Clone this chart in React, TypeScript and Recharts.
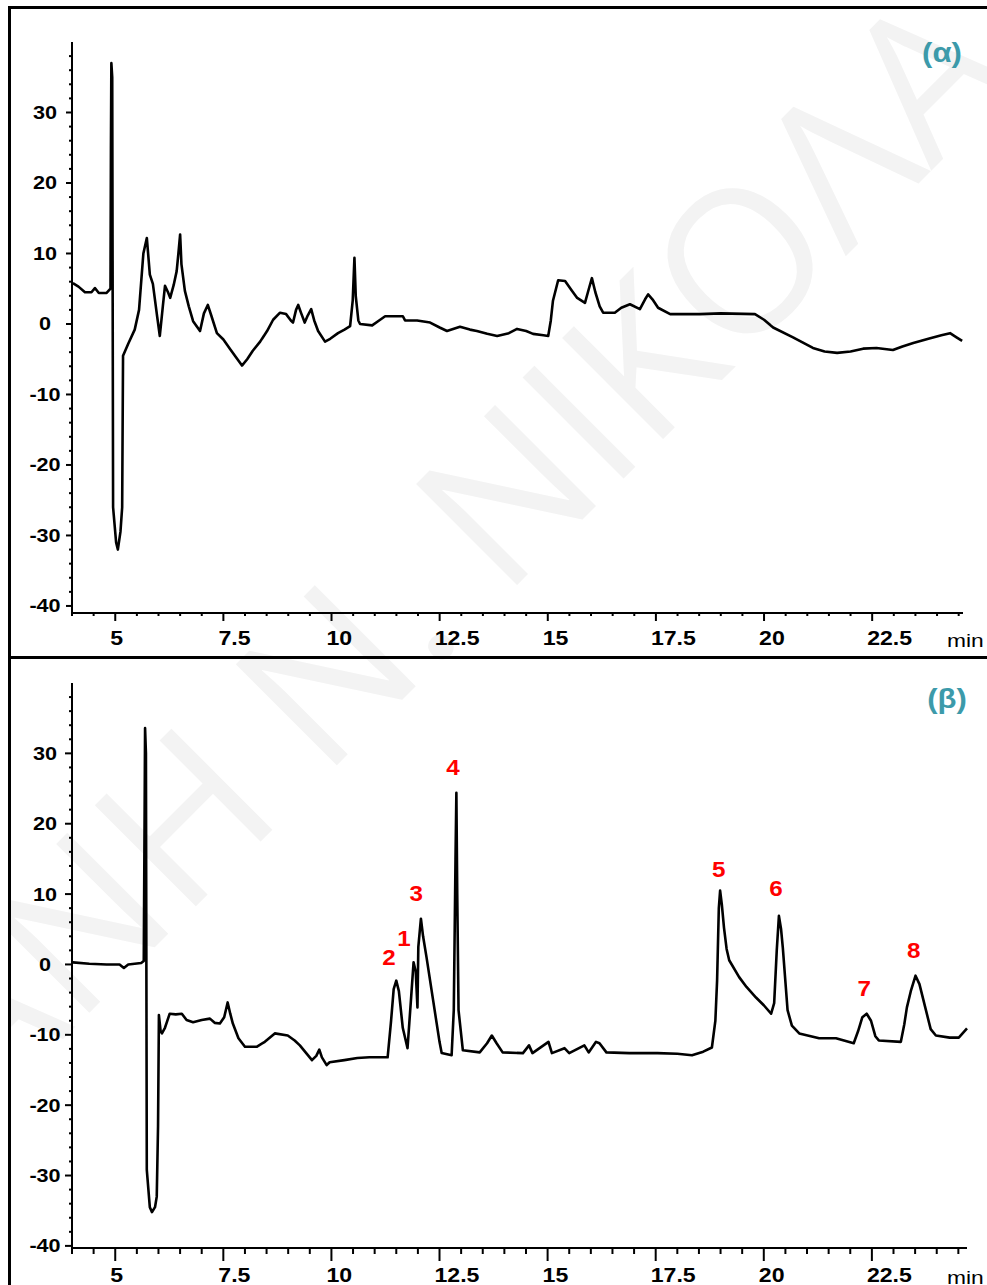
import { LineChart, Line, XAxis, YAxis, ReferenceDot } from "recharts";

// (α) chromatogram: retention time (min) and signal
const timesA = [
  4.02, 4.15, 4.3, 4.45, 4.53, 4.62, 4.8, 4.89, 4.9, 4.91, 4.93, 4.95, 5.02, 5.06, 5.12, 5.16, 5.18,
  5.3, 5.45, 5.55, 5.65, 5.73, 5.8, 5.87, 5.97, 6.03, 6.1, 6.15, 6.22, 6.27, 6.35, 6.42, 6.46, 6.5,
  6.53, 6.61, 6.7, 6.8, 6.96, 7.05, 7.14, 7.22, 7.35, 7.5, 7.65, 7.8, 7.93, 8.05, 8.18, 8.35, 8.51,
  8.65, 8.81, 8.95, 9.06, 9.11, 9.18, 9.23, 9.3, 9.38, 9.45, 9.53, 9.6, 9.69, 9.85, 9.97, 10.15,
  10.3, 10.43, 10.49, 10.53, 10.56, 10.62, 10.66, 10.94, 11.1, 11.24, 11.65, 11.7, 11.98, 12.28,
  12.5, 12.67, 12.97, 13.2, 13.36, 13.6, 13.83, 14.1, 14.29, 14.5, 14.66, 14.9, 15.01, 15.07,
  15.12, 15.24, 15.4, 15.55, 15.68, 15.86, 15.95, 16.02, 16.1, 16.2, 16.28, 16.55, 16.7, 16.9,
  17.13, 17.25, 17.32, 17.42, 17.55, 17.83, 18.52, 19.0, 19.79, 20.0, 20.21, 20.67, 21.13, 21.4,
  21.69, 22.0, 22.29, 22.6, 22.98, 23.2, 23.45, 23.8, 24.1, 24.3, 24.45, 24.58,
];
const signalA = [
  5.8, 5.3, 4.5, 4.5, 5.1, 4.4, 4.4, 5.0, 25, 37, 35, -26, -31, -32, -29.5, -26, -4.5,
  -2.8, -0.8, 2, 10, 12.2, 7, 5.7, 1, -1.7, 2.5, 5.4, 4.5, 3.7, 5.5, 7.5, 10, 12.7,
  8.5, 4.7, 2.5, 0.4, -1, 1.5, 2.7, 1.2, -1.3, -2.2, -3.5, -4.8, -5.9, -5.0, -3.8, -2.5, -1,
  0.6, 1.6, 1.4, 0.5, 0.2, 2.0, 2.7, 1.5, 0.2, 1.2, 2.1, 0.5, -1, -2.5, -2.1, -1.3,
  -0.8, -0.3, 3.3, 9.4, 4, 0.5, 0, -0.2, 0.5, 1.1, 1.1, 0.5, 0.5, 0.2,
  -0.5, -1, -0.4, -0.8, -1, -1.4, -1.7, -1.3, -0.7, -1.0, -1.4, -1.6, -1.7, 0.5,
  3.3, 6.2, 6.1, 4.8, 3.7, 3.0, 5.0, 6.5, 4.5, 2.5, 1.6, 1.6, 2.3, 2.8,
  2.1, 3.5, 4.2, 3.5, 2.3, 1.4, 1.4, 1.5, 1.4, 0.6, -0.5, -1.9, -3.4, -3.9,
  -4.1, -3.9, -3.5, -3.4, -3.7, -3.2, -2.7, -2.1, -1.6, -1.3, -1.9, -2.4,
];

// (β) chromatogram
const timesB = [
  4.02, 4.4, 4.8, 5.1, 5.2, 5.3, 5.6, 5.66, 5.68, 5.69, 5.71, 5.73, 5.8, 5.85, 5.92, 5.96, 5.99,
  6.01, 6.05, 6.08, 6.15, 6.26, 6.4, 6.54, 6.65, 6.8, 7.0, 7.19, 7.3, 7.42, 7.52, 7.6, 7.66, 7.72,
  7.85, 8.0, 8.27, 8.46, 8.69, 8.99, 9.15, 9.27, 9.55, 9.65, 9.72, 9.78, 9.89, 9.96, 10.3, 10.6,
  10.88, 11.3, 11.38, 11.44, 11.5, 11.56, 11.65, 11.76, 11.84, 11.9, 11.95, 11.99, 12.01, 12.07,
  12.12, 12.2, 12.35, 12.5, 12.55, 12.78, 12.83, 12.87, 12.89, 12.91, 12.94, 13.04, 13.43, 13.6,
  13.71, 13.82, 13.96, 14.43, 14.57, 14.65, 15.02, 15.1, 15.39, 15.5, 15.85, 15.95, 16.12, 16.2,
  16.36, 16.89, 17.54, 18.0, 18.34, 18.6, 18.8, 18.88, 18.92, 18.96, 18.99, 19.03, 19.08, 19.14,
  19.2, 19.43, 19.6, 19.82, 20.0, 20.17, 20.24, 20.3, 20.35, 20.4, 20.44, 20.55, 20.65, 20.82, 21.28,
  21.67, 22.08, 22.18, 22.28, 22.38, 22.48, 22.58, 22.66, 23.17, 23.25, 23.31, 23.4, 23.51, 23.6,
  23.75, 23.86, 23.98, 24.3, 24.51, 24.7,
];
const signalB = [
  0.3, 0.1, 0, 0, -0.5, 0, 0.2, 0.5, 22, 33.6, 30, -29.2, -34.5, -35.2, -34.5, -33, -23,
  -7.2, -9.5, -9.8, -9.0, -7, -7.1, -7, -7.9, -8.2, -7.9, -7.7, -8.3, -8.4, -7.5, -5.4, -7.0, -8.4,
  -10.5, -11.7, -11.7, -11, -9.8, -10.1, -10.8, -11.5, -13.6, -13.0, -12.1, -13.2, -14.3, -13.9, -13.6, -13.3,
  -13.2, -13.2, -8, -3.5, -2.3, -3.8, -9, -11.9, -5, 0.3, -1.0, -6.1, 2.5, 6.5,
  4.0, 1.0, -5, -11.0, -12.6, -12.9, -6.5, 15, 24.4, 10, -6.5, -12.2, -12.5, -11.2,
  -10.1, -11.2, -12.5, -12.6, -11.5, -12.6, -11, -12.6, -11.9, -12.6, -11.5, -12.5, -11, -11.2,
  -12.5, -12.6, -12.6, -12.7, -12.9, -12.4, -11.8, -8, -2.3, 8, 10.5, 8.5, 5.2, 2.2,
  0.6, -1.8, -3.2, -4.7, -5.8, -7, -5.5, 2.0, 6.9, 5.0, 2.4, -6.5, -8.7, -9.8, -10.5,
  -10.5, -11.2, -9.5, -7.5, -7, -8, -10.2, -10.8, -11, -8.5, -6.1, -3.8, -1.6, -2.8,
  -6.5, -9.2, -10.1, -10.4, -10.4, -9.1,
];

// numbered peaks in (β), label centre in data units
const peakNames = ["2", "1", "3", "4", "5", "6", "7", "8"];
const peakTimes = [11.33, 11.68, 11.96, 12.81, 18.96, 20.28, 22.32, 23.47];
const peakLabelValues = [1.0, 3.8, 10.1, 28.1, 13.6, 10.8, -3.4, 2.0];

const xMajorTicks = [5, 7.5, 10, 12.5, 15, 17.5, 20, 22.5];
const xTickLabels = ["5", "7.5", "10", "12.5", "15", "17.5", "20", "22.5"];
const yMajorTicks = [-40, -30, -20, -10, 0, 10, 20, 30];
const yTickLabels = ["-40", "-30", "-20", "-10", "0", "10", "20", "30"];

const range = (from: number, to: number, step: number) => {
  const out: number[] = [];
  for (let v = from; v <= to + 1e-9; v += step) out.push(Math.round(v * 10) / 10);
  return out;
};
const xAllTicks = range(4, 24.5, 0.5);
const yAllTicks = range(-40, 38, 2);

const FONT = "'Liberation Sans', Arial, sans-serif";
const TEAL = "#3c9aaa";

const dataA = timesA.map((t, i) => ({ t, v: signalA[i] }));
const dataB = timesB.map((t, i) => ({ t, v: signalB[i] }));

function XTick(props: any) {
  const { x, y, payload, majorLen, minorLen, labelDy } = props;
  const i = xMajorTicks.indexOf(payload.value);
  const major = i >= 0;
  return (
    <g>
      <line x1={x} x2={x} y1={y} y2={y + (major ? majorLen : minorLen)} stroke="#000" strokeWidth={2} />
      {major && (
        <text
          transform={`translate(${x - 5},${y + labelDy}) scale(1.1,1)`}
          textAnchor="start"
          fontSize={21}
          fontWeight="bold"
          fontFamily={FONT}
          fill="#000"
        >
          {xTickLabels[i]}
        </text>
      )}
    </g>
  );
}

function YTick(props: any) {
  const { x, y, payload, majorLen } = props;
  const i = yMajorTicks.indexOf(payload.value);
  const major = i >= 0;
  return (
    <g>
      <line x1={x - (major ? majorLen : 3)} x2={x} y1={y} y2={y} stroke="#000" strokeWidth={2} />
      {major && (
        <text
          transform={`translate(${x - 27},${y}) scale(1.2,1)`}
          textAnchor="middle"
          dy="0.36em"
          fontSize={18}
          fontWeight="bold"
          fontFamily={FONT}
          fill="#000"
        >
          {yTickLabels[i]}
        </text>
      )}
    </g>
  );
}

function PeakLabel(props: any) {
  const { cx, cy, name } = props;
  return (
    <text
      transform={`translate(${cx},${cy}) scale(1.1,1)`}
      textAnchor="middle"
      dy="0.36em"
      fontSize={22}
      fontWeight="bold"
      fontFamily={FONT}
      fill="#ff0000"
    >
      {name}
    </text>
  );
}

export default function App() {
  return (
    <div
      style={{
        position: "fixed",
        left: 8,
        top: 6,
        width: 979,
        height: 1279,
        overflow: "hidden",
        background: "#fff",
      }}
    >
      {/* faint watermark */}
      <svg width={979} height={1279} style={{ position: "absolute", left: 0, top: 0 }}>
        <text
          transform="translate(-22,1110) rotate(-45)"
          fontSize={200}
          fontFamily="'Open Sans', sans-serif"
          fill="#f3f3f3"
        >
          ΑΝΗ Ν. ΝΙΚΟΛΑ
        </text>
      </svg>

      <div style={{ position: "absolute", left: 0, top: 0 }}>
        <LineChart width={979} height={650} data={dataA} margin={{ top: 36, right: 24, bottom: 0, left: 0 }}>
          <XAxis
            dataKey="t"
            type="number"
            domain={[4, 24.6]}
            ticks={xAllTicks}
            interval={0}
            height={43}
            tickSize={0}
            tickMargin={0}
            tickLine={false}
            axisLine={{ stroke: "#000", strokeWidth: 2 }}
            tick={(p: any) => <XTick {...p} majorLen={8} minorLen={3} labelDy={32} />}
          />
          <YAxis
            type="number"
            domain={[-41, 40]}
            ticks={yAllTicks}
            interval={0}
            width={64}
            tickSize={0}
            tickMargin={0}
            tickLine={false}
            axisLine={{ stroke: "#000", strokeWidth: 2 }}
            tick={(p: any) => <YTick {...p} majorLen={6} />}
          />
          <Line
            dataKey="v"
            type="linear"
            stroke="#000"
            strokeWidth={2.6}
            strokeLinejoin="round"
            dot={false}
            isAnimationActive={false}
          />
        </LineChart>
      </div>

      <div style={{ position: "absolute", left: 0, top: 652 }}>
        <LineChart width={979} height={627} data={dataB} margin={{ top: 25, right: 20, bottom: 0, left: 0 }}>
          <XAxis
            dataKey="t"
            type="number"
            domain={[4, 24.7]}
            ticks={xAllTicks}
            interval={0}
            height={37}
            tickSize={0}
            tickMargin={0}
            tickLine={false}
            axisLine={{ stroke: "#000", strokeWidth: 2 }}
            tick={(p: any) => <XTick {...p} majorLen={13} minorLen={6} labelDy={34} />}
          />
          <YAxis
            type="number"
            domain={[-40.3, 40]}
            ticks={yAllTicks}
            interval={0}
            width={64}
            tickSize={0}
            tickMargin={0}
            tickLine={false}
            axisLine={{ stroke: "#000", strokeWidth: 2 }}
            tick={(p: any) => <YTick {...p} majorLen={7} />}
          />
          <Line
            dataKey="v"
            type="linear"
            stroke="#000"
            strokeWidth={2.6}
            strokeLinejoin="round"
            dot={false}
            isAnimationActive={false}
          />
          {peakNames.map((name, i) => (
            <ReferenceDot
              key={name}
              x={peakTimes[i]}
              y={peakLabelValues[i]}
              r={0}
              shape={(p: any) => <PeakLabel {...p} name={name} />}
            />
          ))}
        </LineChart>
      </div>

      {/* frame */}
      <div style={{ position: "absolute", left: 0, top: 0, width: 3, height: 1279, background: "#000" }} />
      <div style={{ position: "absolute", left: 0, top: 0, width: 979, height: 3, background: "#000" }} />
      <div style={{ position: "absolute", left: 0, top: 650, width: 979, height: 3, background: "#000" }} />

      {/* panel tags and unit labels */}
      <svg width={979} height={1279} style={{ position: "absolute", left: 0, top: 0, pointerEvents: "none" }}>
        <text
          transform="translate(934,46) scale(1.15,1)"
          textAnchor="middle"
          dy="0.36em"
          fontSize={27}
          fontWeight="bold"
          fontFamily={FONT}
          fill={TEAL}
        >
          (α)
        </text>
        <text
          transform="translate(939,692) scale(1.15,1)"
          textAnchor="middle"
          dy="0.36em"
          fontSize={27}
          fontWeight="bold"
          fontFamily={FONT}
          fill={TEAL}
        >
          (β)
        </text>
        <text transform="translate(939,641) scale(1.2,1)" fontSize={19} fontFamily={FONT} fill="#000">
          min
        </text>
        <text transform="translate(939,1278) scale(1.2,1)" fontSize={19} fontFamily={FONT} fill="#000">
          min
        </text>
      </svg>
    </div>
  );
}
